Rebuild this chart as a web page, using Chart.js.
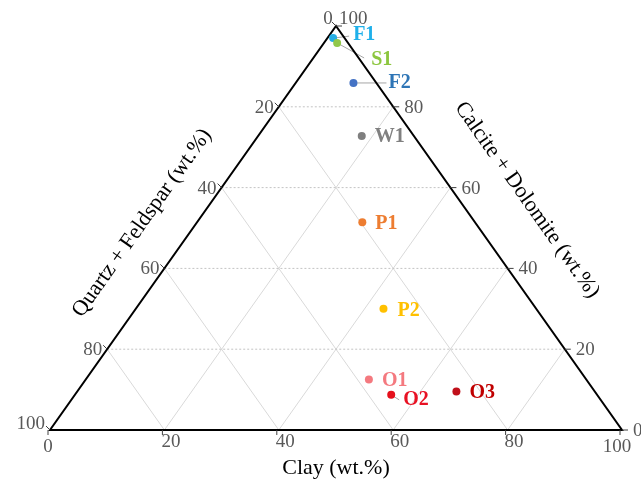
<!DOCTYPE html>
<html>
<head>
<meta charset="utf-8">
<script src="https://cdn.jsdelivr.net/npm/chart.js@4.4.0/dist/chart.umd.min.js"></script>
<style>
html, body { margin: 0; padding: 0; background: #fff; }
</style>
</head>
<body>
<canvas id="myChart" width="641" height="483"></canvas>
<script>
// samples and their composition (wt.%)
let samples = ['F1', 'S1', 'F2', 'W1', 'P1', 'P2', 'O1', 'O2', 'O3'];
let clay    = [1.0, 2.3, 10.1, 18.1, 28.9, 43.3, 49.5, 55.3, 66.3];
let quartz  = [2.0, 1.9, 4.0, 9.1, 19.7, 26.7, 38.0, 36.0, 24.2];
let calcite = [97.0, 95.8, 85.9, 72.8, 51.4, 30.0, 12.5, 8.7, 9.5];
let tickValues = [0, 20, 40, 60, 80, 100];

let dotColors   = ['#27aee3', '#92c84a', '#4472c4', '#7f7f7f', '#ed7d31', '#ffc000', '#f4797f', '#e5101c', '#c0101a'];
let labelColors = ['#1fb0ea', '#8cc63e', '#2e75b6', '#808080', '#ed7d31', '#ffc000', '#f4797f', '#e81123', '#c00000'];
// where each name sits relative to its dot, and short leader lines
let labelOffsets = [[20, -3], [34, 17], [35, 0], [13, 1], [13, 1], [14, 2], [13, 1], [12, 5], [13, 1]];
let leaders = [[16, -2], [27, 15], [33, 0], null, null, null, null, [8, 5], null];

const serif = '"Liberation Serif", "Times New Roman", serif';

// ternary -> cartesian (x = clay + calcite/2, y = calcite)
function tern(c, k) { return { x: c + k / 2, y: k }; }

let points = samples.map((s, i) => tern(clay[i], calcite[i]));

function pos(chart, c, k) {
    let p = tern(c, k);
    return { x: chart.scales.x.getPixelForValue(p.x), y: chart.scales.y.getPixelForValue(p.y) };
}

function line(ctx, a, b) {
    ctx.beginPath();
    ctx.moveTo(a.x, a.y);
    ctx.lineTo(b.x, b.y);
    ctx.stroke();
}

const ternaryPlugin = {
    id: 'ternary',
    beforeDatasetsDraw(chart) {
        let ctx = chart.ctx;
        ctx.save();
        // diagonal grid
        ctx.strokeStyle = '#d9d9d9';
        ctx.lineWidth = 1;
        for (let v = 20; v < 100; v += 20) {
            line(ctx, pos(chart, v, 0), pos(chart, v, 100 - v));
            line(ctx, pos(chart, v, 0), pos(chart, 0, v));
        }
        // horizontal (calcite) grid, dotted
        ctx.strokeStyle = '#c4c4c4';
        ctx.setLineDash([2, 2]);
        for (let v = 20; v < 100; v += 20) {
            line(ctx, pos(chart, 0, v), pos(chart, 100 - v, v));
        }
        ctx.setLineDash([]);

        // leader lines
        ctx.strokeStyle = '#a6a6a6';
        ctx.lineWidth = 1;
        let meta = chart.getDatasetMeta(0);
        leaders.forEach((l, i) => {
            if (!l) return;
            let el = meta.data[i];
            line(ctx, { x: el.x, y: el.y }, { x: el.x + l[0], y: el.y + l[1] });
        });

        // triangle
        let A = pos(chart, 0, 0), B = pos(chart, 100, 0), C = pos(chart, 0, 100);
        ctx.strokeStyle = '#000';
        ctx.lineWidth = 2;
        ctx.beginPath();
        ctx.moveTo(A.x, A.y);
        ctx.lineTo(B.x, B.y);
        ctx.lineTo(C.x, C.y);
        ctx.closePath();
        ctx.stroke();

        // ticks
        ctx.lineWidth = 1;
        ctx.strokeStyle = '#404040';
        tickValues.forEach(v => {
            let b = pos(chart, v, 0);
            line(ctx, { x: b.x - 2, y: b.y }, { x: b.x - 2, y: b.y + 5 });
            let r = pos(chart, 100 - v, v);
            line(ctx, r, { x: r.x + 6, y: r.y });
            let lft = pos(chart, 0, v);
            line(ctx, lft, { x: lft.x - 4, y: lft.y - 4 });
        });
        ctx.restore();
    },
    afterDatasetsDraw(chart) {
        let ctx = chart.ctx;
        ctx.save();
        // tick labels
        ctx.fillStyle = '#595959';
        ctx.font = '19px ' + serif;
        ctx.textBaseline = 'middle';
        tickValues.forEach(v => {
            // bottom: clay
            let b = pos(chart, v, 0);
            if (v === 0) {
                ctx.textAlign = 'center';
                ctx.fillText(String(v), b.x - 2, b.y + 17);
            } else if (v === 100) {
                ctx.textAlign = 'center';
                ctx.fillText(String(v), b.x - 5, b.y + 17);
            } else {
                ctx.textAlign = 'left';
                ctx.fillText(String(v), b.x - 3, b.y + 12);
            }
            // right: calcite + dolomite
            let r = pos(chart, 100 - v, v);
            ctx.textAlign = 'left';
            if (v === 100) {
                ctx.fillText(String(v), r.x + 3, r.y - 7);
            } else {
                ctx.fillText(String(v), r.x + 11, r.y + 1);
            }
            // left: quartz + feldspar
            let l = pos(chart, 0, v);
            if (v === 100) {
                ctx.textAlign = 'center';
                ctx.fillText(String(100 - v), l.x - 8, l.y - 7);
            } else {
                ctx.textAlign = 'right';
                ctx.fillText(String(100 - v), l.x - 5, l.y + (v === 0 ? -6 : 1));
            }
        });

        // sample names
        ctx.font = 'bold 20px ' + serif;
        ctx.textAlign = 'left';
        let meta = chart.getDatasetMeta(0);
        samples.forEach((s, i) => {
            let el = meta.data[i];
            ctx.fillStyle = labelColors[i];
            ctx.fillText(s, el.x + labelOffsets[i][0], el.y + labelOffsets[i][1]);
        });

        // axis titles
        ctx.fillStyle = '#000';
        ctx.font = '22px ' + serif;
        ctx.textAlign = 'center';
        let A = pos(chart, 0, 0), B = pos(chart, 100, 0), C = pos(chart, 0, 100);
        ctx.fillText('Clay (wt.%)', (A.x + B.x) / 2, A.y + 38);
        let ang = Math.atan2(A.y - C.y, C.x - A.x);
        ctx.save();
        ctx.translate(142, 223);
        ctx.rotate(-ang);
        ctx.fillText('Quartz + Feldspar (wt.%)', 0, 0);
        ctx.restore();
        ctx.save();
        ctx.translate(527, 200);
        ctx.rotate(ang);
        ctx.fillText('Calcite + Dolomite (wt.%)', 0, 0);
        ctx.restore();
        ctx.restore();
    }
};

let ctx = document.getElementById('myChart').getContext('2d');
let chart = new Chart(ctx, {
    type: 'scatter',
    data: {
        datasets: [{
            data: points,
            backgroundColor: dotColors,
            borderWidth: 0,
            pointRadius: 4
        }]
    },
    options: {
        responsive: false,
        animation: false,
        layout: { padding: { left: 50, right: 19, top: 26, bottom: 53 } },
        plugins: { legend: { display: false }, tooltip: { enabled: false } },
        scales: {
            x: { type: 'linear', min: 0, max: 100, display: false },
            y: { type: 'linear', min: 0, max: 100, display: false }
        }
    },
    plugins: [ternaryPlugin]
});
</script>
</body>
</html>
